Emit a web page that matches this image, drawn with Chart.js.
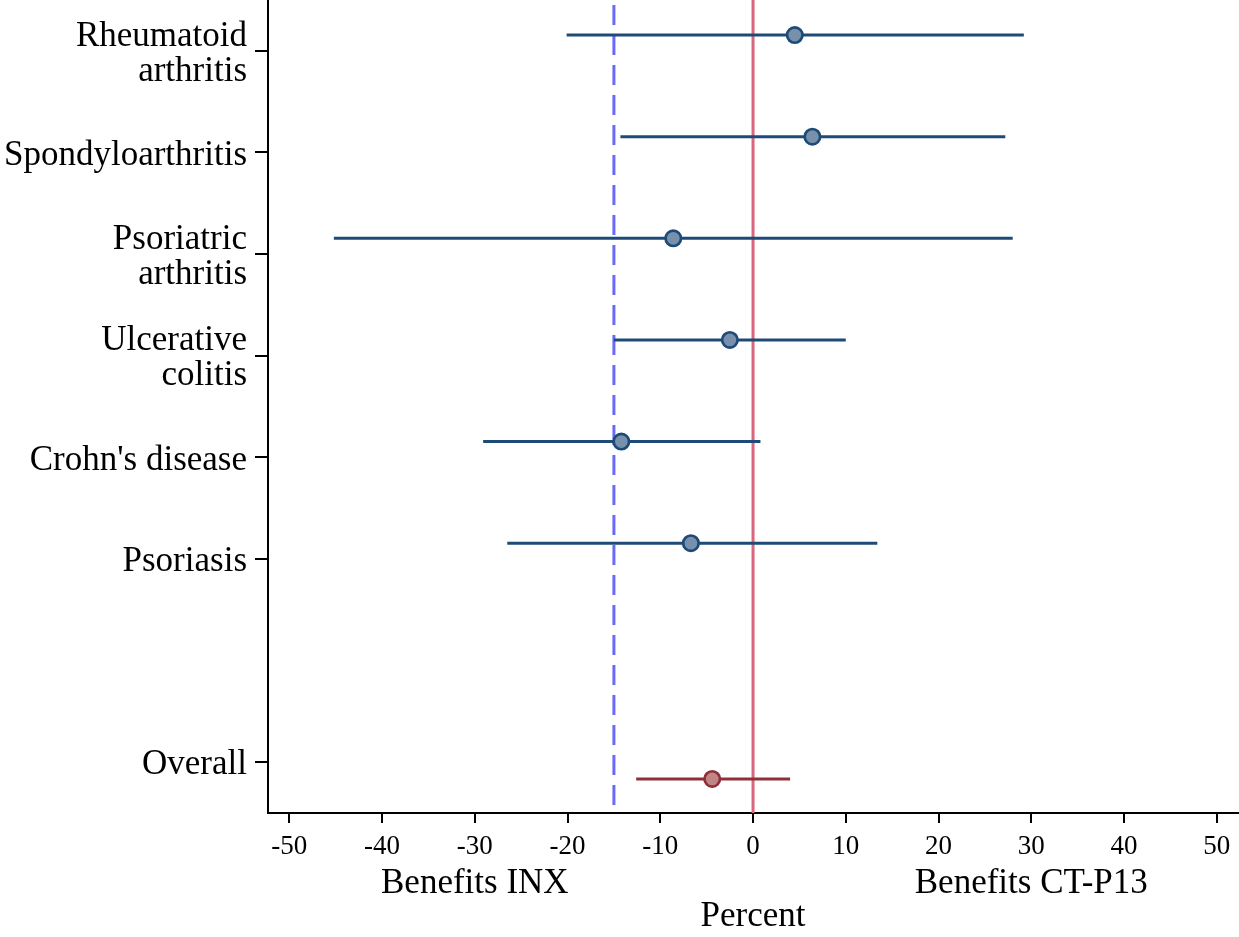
<!DOCTYPE html>
<html>
<head>
<meta charset="utf-8">
<script src="https://cdn.jsdelivr.net/npm/chart.js@4"></script>
<style>
  html, body { margin: 0; padding: 0; background: #fff; }
  #wrap { width: 1239px; height: 937px; }
</style>
</head>
<body>
<div id="wrap"><canvas id="chart" width="1239" height="937"></canvas></div>
<script>
// rows of the forest plot (top to bottom)
const categories = [['Rheumatoid', 'arthritis'], 'Spondyloarthritis', ['Psoriatric', 'arthritis'],
    ['Ulcerative', 'colitis'], "Crohn's disease", 'Psoriasis', 'Overall'];
const rowPos = [1, 2, 3, 4, 5, 6, 8];
const estimates = [4.5, 6.4, -8.6, -2.5, -14.2, -6.7, -4.4];
const lower = [-20.1, -14.3, -45.2, -15.0, -29.1, -26.5, -12.6];
const upper = [29.2, 27.2, 28.0, 10.0, 0.8, 13.4, 4.0];
const xTicks = [-50, -40, -30, -20, -10, 0, 10, 20, 30, 40, 50];
const marginLine = -15;
const nullLine = 0;

const serif = 'Liberation Serif';
const blue = '#1d4a76';
const blueFill = '#7791ad';
const red = '#8e3039';
const redFill = '#c28586';

// little vertical shift of the markers off the tick (like the original)
const shift = (i) => (i === rowPos.length - 1 ? 0.165 : -0.155);

const datasets = [];

// points
datasets.push({
    type: 'scatter',
    data: estimates.map((v, i) => ({ x: v, y: rowPos[i] + shift(i) })),
    pointRadius: 7.7,
    pointBorderWidth: 2.7,
    pointBackgroundColor: estimates.map((v, i) => i === rowPos.length - 1 ? redFill : blueFill),
    pointBorderColor: estimates.map((v, i) => i === rowPos.length - 1 ? red : blue),
    order: 0
});

// confidence intervals
rowPos.forEach((p, i) => {
    const last = i === rowPos.length - 1;
    datasets.push({
        type: 'line',
        data: [{ x: lower[i], y: p + shift(i) }, { x: upper[i], y: p + shift(i) }],
        borderColor: last ? red : blue,
        borderWidth: 3,
        pointRadius: 0,
        order: 1
    });
});

// reference lines
datasets.push({
    type: 'line',
    data: [{ x: nullLine, y: 0.5 }, { x: nullLine, y: 8.5 }],
    borderColor: '#d9687f',
    borderWidth: 3,
    pointRadius: 0,
    order: 2
});
datasets.push({
    type: 'line',
    data: [{ x: marginLine, y: 0.55 }, { x: marginLine, y: 8.5 }],
    borderColor: '#6a6afa',
    borderWidth: 3,
    borderDash: [20, 10],
    pointRadius: 0,
    order: 2
});

const labelsPlugin = {
    id: 'bottomLabels',
    afterDraw(c) {
        const ctx = c.ctx;
        const x = c.scales.x;
        ctx.save();
        ctx.fillStyle = '#000';
        ctx.font = '35px "' + serif + '"';
        ctx.textAlign = 'center';
        ctx.textBaseline = 'middle';
        ctx.fillText('Benefits INX', x.getPixelForValue(-30), 884);
        ctx.fillText('Benefits CT-P13', x.getPixelForValue(30), 884);
        ctx.fillText('Percent', x.getPixelForValue(0), 917);
        ctx.restore();
    }
};

// no extra room around the plot area
const noPad = (s) => {
    s.paddingTop = 0;
    s.paddingBottom = 0;
    s.paddingLeft = 0;
    s.paddingRight = 0;
};

new Chart(document.getElementById('chart'), {
    type: 'scatter',
    data: { datasets: datasets },
    options: {
        responsive: false,
        animation: false,
        layout: { padding: 0, autoPadding: false },
        plugins: { legend: { display: false }, tooltip: { enabled: false } },
        scales: {
            x: {
                type: 'linear',
                min: -52.3,
                max: 52.4,
                afterBuildTicks: (s) => { s.ticks = xTicks.map(v => ({ value: v })); },
                afterFit: (s) => { s.height = 124; noPad(s); },
                ticks: {
                    font: { family: serif, size: 27 },
                    color: '#000',
                    padding: 8,
                    maxRotation: 0,
                    autoSkip: false
                },
                grid: { drawOnChartArea: false, drawTicks: true, tickLength: 10, color: '#000', lineWidth: 2 },
                border: { display: true, color: '#000', width: 2 }
            },
            y: {
                type: 'linear',
                reverse: true,
                min: 0.5,
                max: 8.5,
                afterBuildTicks: (s) => { s.ticks = rowPos.map(v => ({ value: v })); },
                afterFit: (s) => { s.width = 268; noPad(s); },
                ticks: {
                    font: { family: serif, size: 35, lineHeight: 1.0 },
                    color: '#000',
                    padding: 8,
                    labelOffset: 3,
                    autoSkip: false,
                    callback: (v) => categories[rowPos.indexOf(v)]
                },
                grid: { drawOnChartArea: false, drawTicks: true, tickLength: 13, color: '#000', lineWidth: 2 },
                border: { display: true, color: '#000', width: 2 }
            }
        }
    },
    plugins: [labelsPlugin]
});
</script>
</body>
</html>
